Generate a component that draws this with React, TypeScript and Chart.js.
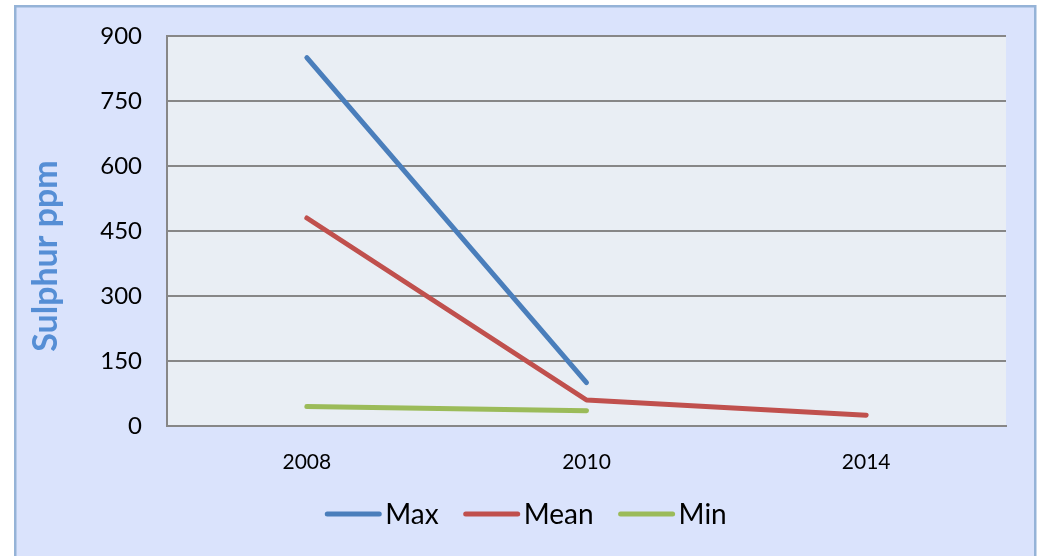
import React, { useEffect, useRef } from "react";
import { Chart, registerables } from "chart.js";

Chart.register(...registerables);

const categories = ["2008", "2010", "2014"];
const maxValues = [850, 100, null];
const meanValues = [480, 60, 25];
const minValues = [45, 35, null];
const yTicks = [0, 150, 300, 450, 600, 750, 900];

const seriesNames = ["Max", "Mean", "Min"];
const seriesColors = ["#4a7ebb", "#c0504d", "#9bbb59"];

const FONT = "Lato, 'Open Sans', sans-serif";

const framePlugin = {
  id: "frame",
  beforeDraw(chart: any) {
    const { ctx, width, height, chartArea } = chart;
    ctx.save();
    ctx.fillStyle = "#ffffff";
    ctx.fillRect(0, 0, width, height);
    ctx.fillStyle = "#dae3fc";
    ctx.fillRect(15, 6, 1020, 600);
    ctx.strokeStyle = "#95b3d7";
    ctx.lineWidth = 2.5;
    ctx.strokeRect(15.25, 6.25, 1020, 600);
    ctx.fillStyle = "#e9eef4";
    ctx.fillRect(chartArea.left, chartArea.top, chartArea.right - chartArea.left, chartArea.bottom - chartArea.top);
    ctx.restore();
  },
  afterDraw(chart: any) {
    const { ctx } = chart;
    ctx.save();
    // axis title
    ctx.translate(46, 256);
    ctx.rotate(-Math.PI / 2);
    ctx.font = `bold 34px ${FONT}`;
    ctx.fillStyle = "#558ed5";
    ctx.textAlign = "center";
    ctx.textBaseline = "middle";
    ctx.fillText("Sulphur ppm", 0, 0);
    ctx.restore();

    // legend
    ctx.save();
    ctx.font = `28px ${FONT}`;
    const lineLen = 56;
    const gapText = 4;
    const gapItem = 25;
    const ds = chart.data.datasets;
    const widths = ds.map((d: any) => lineLen + gapText + ctx.measureText(d.label).width);
    const total = widths.reduce((a: number, b: number) => a + b, 0) + gapItem * (ds.length - 1);
    let x = 526 - total / 2;
    const y = 514;
    ds.forEach((d: any, i: number) => {
      ctx.strokeStyle = d.borderColor;
      ctx.lineWidth = 5;
      ctx.lineCap = "round";
      ctx.beginPath();
      ctx.moveTo(x + 2, y);
      ctx.lineTo(x + lineLen - 2, y);
      ctx.stroke();
      ctx.fillStyle = "#000000";
      ctx.textAlign = "left";
      ctx.textBaseline = "middle";
      ctx.fillText(d.label, x + lineLen + gapText, y + 1);
      x += widths[i] + gapItem;
    });
    ctx.restore();
  },
};

export default function App() {
  const ref = useRef<HTMLCanvasElement>(null);

  useEffect(() => {
    if (!ref.current) return;
    const values = [maxValues, meanValues, minValues];
    const chart = new Chart(ref.current, {
      type: "line",
      data: {
        labels: categories,
        datasets: seriesNames.map((name, i) => ({
          label: name,
          data: values[i],
          borderColor: seriesColors[i],
          backgroundColor: seriesColors[i],
          borderWidth: 5,
          pointRadius: 0,
          pointHoverRadius: 0,
          tension: 0,
          borderCapStyle: "round",
          borderJoinStyle: "round",
          spanGaps: false,
        })),
      },
      options: {
        responsive: false,
        animation: false,
        layout: { padding: { left: 0, top: 36, right: 34, bottom: 0 } },
        plugins: {
          legend: { display: false },
          tooltip: { enabled: false },
          title: { display: false },
        },
        scales: {
          x: {
            offset: true,
            grid: { display: false, drawTicks: false },
            border: { display: true, color: "#878787", width: 2 },
            ticks: {
              color: "#000000",
              font: { family: FONT, size: 21 },
              padding: 24,
            },
            afterFit(s: any) {
              s.height = 130;
              s.paddingLeft = 0;
              s.paddingRight = 0;
            },
          },
          y: {
            min: 0,
            max: 900,
            afterBuildTicks(s: any) {
              s.ticks = yTicks.map((v) => ({ value: v }));
            },
            grid: { color: "#878787", lineWidth: 2, drawTicks: false },
            border: { display: true, color: "#878787", width: 2 },
            ticks: {
              color: "#000000",
              font: { family: FONT, size: 24 },
              padding: 25,
            },
            afterFit(s: any) {
              s.width = 167;
              s.paddingTop = 0;
              s.paddingBottom = 0;
            },
          },
        },
      },
      plugins: [framePlugin],
    });
    return () => chart.destroy();
  }, []);

  return (
    <div style={{ position: "fixed", left: 0, top: 0, width: 1040, height: 556 }}>
      <canvas ref={ref} width={1040} height={556} style={{ display: "block" }} />
    </div>
  );
}
